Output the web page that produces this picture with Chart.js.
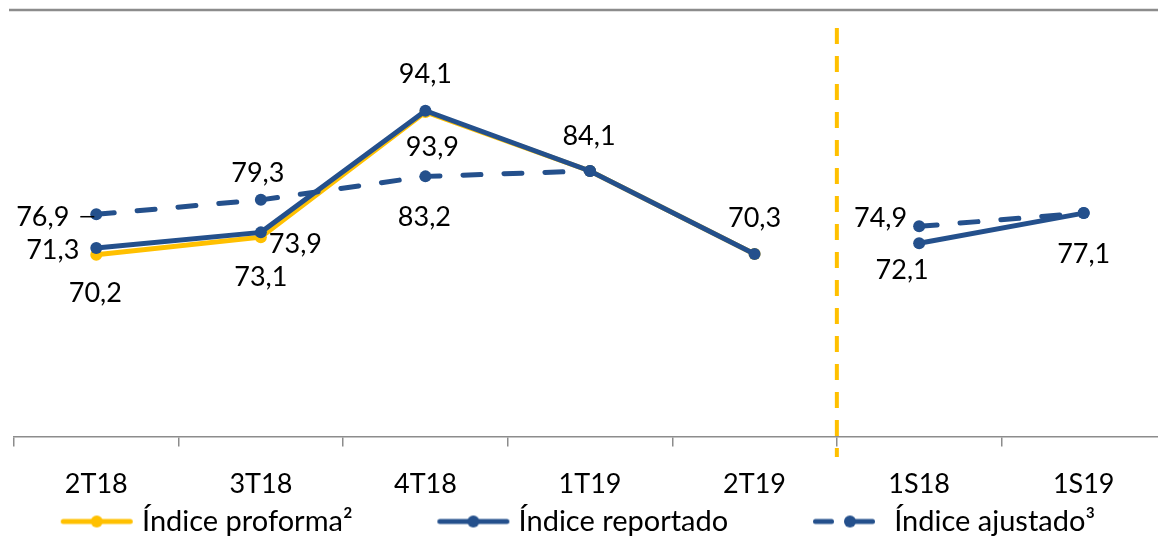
<!DOCTYPE html>
<html><head><meta charset="utf-8">
<script src="https://cdn.jsdelivr.net/npm/chart.js@4.4.1/dist/chart.umd.min.js"></script>
<style>
html,body{margin:0;padding:0;overflow:hidden;background:#fff;width:1158px;height:536px}
#wrap{position:relative;width:1172px;height:546px}
</style>
</head><body><div id="wrap"><canvas id="c" width="1172" height="546"></canvas></div>
<script>
// ---- data ----
const categories = ['2T18', '3T18', '4T18', '1T19', '2T19', '1S18', '1S19'];
const proforma  = [70.2, 73.1, 93.9, 84.1, 70.3, null, null];
const reportado = [71.3, 73.9, 94.1, 84.1, 70.3, 72.1, 77.1];
const ajustado  = [76.9, 79.3, 83.2, 84.1, null, 74.9, 77.1];
const seriesNames = ['Índice proforma²', 'Índice reportado', 'Índice ajustado³'];
const yRange = [40, 110];

// ---- style ----
const YELLOW = '#FFC000';
const BLUE = '#24508c';
const GRAY = '#8c8c8c';
const FONT = 'Lato';
const splitIndex = categories.findIndex(c => c.indexOf('S') >= 0);

// label placement per series: [dx, dy, align, leader]
const labelPlacement = [
  [[-1, 39, 'center'], [0, 40, 'center'], [7, 35, 'center'], null, null, null, null],
  [[-17, 2, 'right'], [8, 11.5, 'left'], [0, -36, 'center'], [-1, -35, 'center'], [0, -36, 'center'], [-17, 27, 'center'], [0, 41, 'center']],
  [[-27, 3, 'right', true], [-3, -27, 'center'], [-1, 41, 'center'], null, null, [-12, -8, 'right'], null]
];

function makeSample(color, dashed) {
  const c = document.createElement('canvas');
  c.width = 154; c.height = 18;
  const g = c.getContext('2d');
  g.strokeStyle = color; g.fillStyle = color; g.lineWidth = 5; g.lineCap = 'round';
  const y = 9;
  if (!dashed) {
    g.beginPath(); g.moveTo(83.5, y); g.lineTo(150.5, y); g.stroke();
    g.beginPath(); g.arc(117, y, 6, 0, Math.PI * 2); g.fill();
  } else {
    g.beginPath(); g.moveTo(83.5, y); g.lineTo(99.5, y); g.stroke();
    g.beginPath(); g.moveTo(118, y); g.lineTo(140.5, y); g.stroke();
    g.beginPath(); g.arc(118, y, 6, 0, Math.PI * 2); g.fill();
  }
  return c;
}

const decorPlugin = {
  id: 'decor',
  beforeDatasetsDraw(chart) {
    const ctx = chart.ctx;
    const xs = chart.scales.x;
    ctx.save();
    // top frame line
    ctx.strokeStyle = GRAY; ctx.lineWidth = 2.5;
    ctx.beginPath(); ctx.moveTo(9, 10); ctx.lineTo(chart.width, 10); ctx.stroke();
    // separator
    const xSep = (xs.getPixelForValue(splitIndex - 1) + xs.getPixelForValue(splitIndex)) / 2;
    ctx.strokeStyle = YELLOW; ctx.lineWidth = 4; ctx.setLineDash([16, 12]);
    ctx.beginPath(); ctx.moveTo(xSep, 28); ctx.lineTo(xSep, 457); ctx.stroke();
    ctx.restore();
  }
};

const labelPlugin = {
  id: 'valueLabels',
  afterDatasetsDraw(chart) {
    const ctx = chart.ctx;
    ctx.save();
    ctx.font = '27px ' + FONT;
    ctx.fillStyle = '#000';
    ctx.textBaseline = 'middle';
    chart.data.datasets.forEach((ds, i) => {
      const meta = chart.getDatasetMeta(i);
      meta.data.forEach((pt, j) => {
        const pl = labelPlacement[i][j];
        const v = ds.data[j];
        if (!pl || v == null) return;
        const [dx, dy, align, leader] = pl;
        ctx.textAlign = align;
        ctx.fillText(v.toFixed(1).replace('.', ','), pt.x + dx, pt.y + dy);
        if (leader) {
          ctx.strokeStyle = '#000'; ctx.lineWidth = 1.5;
          ctx.beginPath(); ctx.moveTo(pt.x - 16, pt.y + 2.4); ctx.lineTo(pt.x - 2, pt.y + 2.4); ctx.stroke();
        }
      });
    });
    ctx.restore();
  }
};

Chart.defaults.font.family = FONT;

const common = { tension: 0, borderWidth: 5, pointRadius: 6, pointHoverRadius: 6, pointBorderWidth: 0, spanGaps: false };

new Chart(document.getElementById('c'), {
  type: 'line',
  data: {
    labels: categories,
    datasets: [
      Object.assign({ label: seriesNames[0], data: proforma, borderColor: YELLOW, backgroundColor: YELLOW, pointBackgroundColor: YELLOW, order: 3 }, common),
      Object.assign({ label: seriesNames[1], data: reportado, borderColor: BLUE, backgroundColor: BLUE, pointBackgroundColor: BLUE, order: 1,
        segment: { borderColor: c => (c.p0DataIndex === splitIndex - 1 ? 'rgba(0,0,0,0)' : undefined) } }, common),
      Object.assign({ label: seriesNames[2], data: ajustado, borderColor: BLUE, backgroundColor: BLUE, pointBackgroundColor: BLUE, order: 2,
        borderDash: [18, 23], borderCapStyle: 'round' }, common)
    ]
  },
  options: {
    responsive: false,
    animation: false,
    devicePixelRatio: 1,
    events: [],
    layout: { padding: { left: -24, right: 0, top: 15, bottom: 0 } },
    scales: {
      x: {
        type: 'category', offset: true,
        grid: { display: true, offset: true, drawOnChartArea: false, drawTicks: true, tickLength: 10, color: GRAY, lineWidth: 1.5 },
        border: { display: true, color: GRAY, width: 1.5 },
        ticks: { font: { size: 27, family: FONT }, color: '#000', padding: 22, maxRotation: 0, autoSkip: false },
        afterFit(s) { s.height = 60.5; }
      },
      y: {
        min: yRange[0], max: yRange[1],
        grid: { display: false }, border: { display: false },
        ticks: { display: false },
        afterFit(s) { s.width = 38; }
      }
    },
    plugins: {
      tooltip: { enabled: false },
      legend: {
        position: 'bottom', align: 'start',
        labels: {
          usePointStyle: true, pointStyleWidth: 141.5, padding: 10,
          font: { size: 29, family: FONT }, color: '#000',
          generateLabels(chart) {
            return chart.data.datasets.map((ds, i) => ({
              text: ds.label, datasetIndex: i, hidden: false, lineWidth: 0,
              fillStyle: ds.borderColor, strokeStyle: ds.borderColor, fontColor: '#000',
              pointStyle: makeSample(ds.borderColor, !!ds.borderDash)
            }));
          }
        }
      }
    }
  },
  plugins: [decorPlugin, labelPlugin]
});
</script>
</body></html>
